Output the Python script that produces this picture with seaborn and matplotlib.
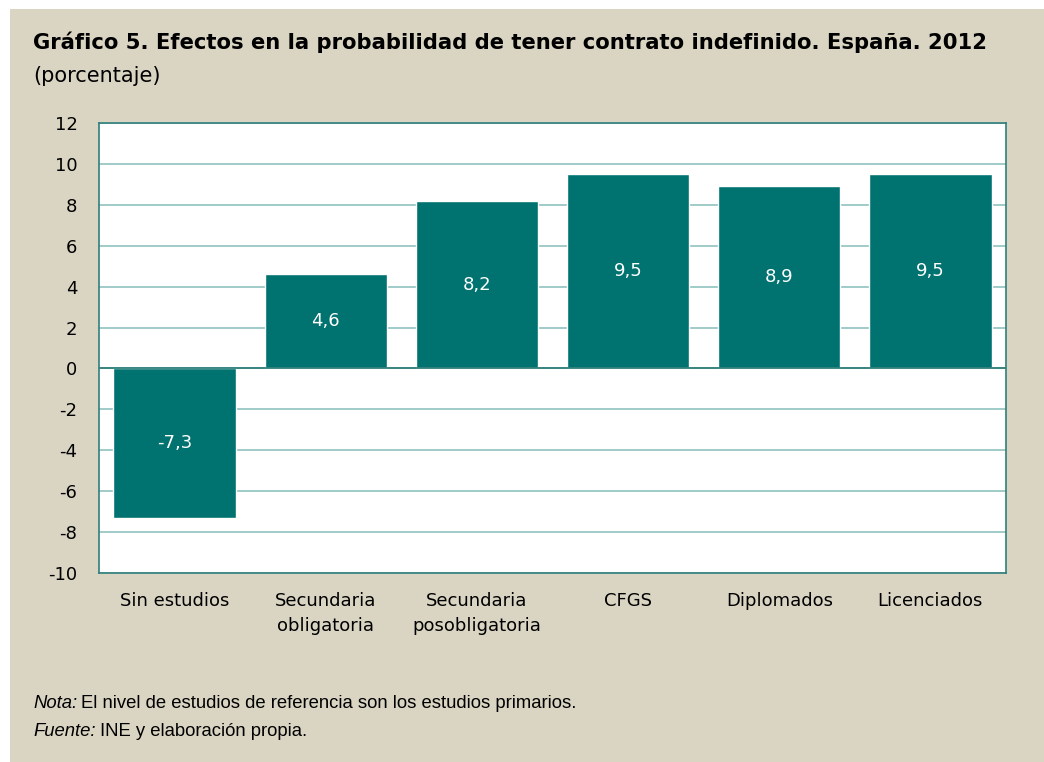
import matplotlib
matplotlib.use("Agg")
import matplotlib.pyplot as plt
import seaborn as sns
import numpy as np
import pandas as pd
from matplotlib.patches import Rectangle

# Data
categorias = ["Sin estudios", "Secundaria\nobligatoria", "Secundaria\nposobligatoria",
              "CFGS", "Diplomados", "Licenciados"]
efectos = [-7.3, 4.6, 8.2, 9.5, 8.9, 9.5]
y_ticks = np.arange(-10, 13, 2)

df = pd.DataFrame({"Nivel": categorias, "Efecto": efectos})

sns.set_theme(style="white")
plt.rcParams["font.family"] = ["DejaVu Sans"]
plt.rcParams["text.color"] = "black"

beige = "#DAD5C3"
teal = "#007370"
grid_col = "#8FC2BF"
spine_col = "#2F7F7B"

fig = plt.figure(figsize=(10.44, 7.62), dpi=100)
fig.patch.set_facecolor("white")
# beige panel (small white strip at top and left like the original)
fig.patches.append(Rectangle((10 / 1044, 0), 1 - 10 / 1044, 1 - 9 / 762,
                             transform=fig.transFigure, facecolor=beige,
                             edgecolor="none", zorder=-5))

ax = fig.add_axes([99 / 1044, 1 - 573 / 762, (1006 - 99) / 1044, (573 - 123) / 762])
ax.set_zorder(2)
ax.set_facecolor("white")

sns.barplot(data=df, x="Nivel", y="Efecto", color=teal, width=0.81,
            saturation=1, ax=ax, zorder=3)

ax.set_ylim(-10, 12)
ax.set_yticks(y_ticks)
ax.set_yticklabels([str(t) for t in y_ticks])
ax.yaxis.grid(True, color=grid_col, linewidth=1.2, zorder=0)
ax.set_axisbelow(True)
ax.axhline(0, color=spine_col, linewidth=1.3, zorder=4)
ax.set_xlim(-0.5, 5.5)

for s in ax.spines.values():
    s.set_color(spine_col)
    s.set_linewidth(1.2)

ax.set_xlabel("")
ax.set_ylabel("")
ax.tick_params(axis="both", length=0, labelsize=13, colors="black")
ax.tick_params(axis="y", pad=15.5)
ax.tick_params(axis="x", pad=14)
for lab in ax.get_xticklabels():
    lab.set_linespacing(1.45)

ax.bar_label(ax.containers[0], labels=[f"{v:.1f}".replace(".", ",") for v in efectos],
             label_type="center", color="white", fontsize=13)

fig.text(33 / 1044, 1 - 42 / 762, "Gráfico 5. Efectos en la probabilidad de tener contrato indefinido. España. 2012",
         fontsize=15.2, fontweight="bold", va="center", ha="left", color="black")
fig.text(33 / 1044, 1 - 76 / 762, "(porcentaje)", fontsize=15, va="center", ha="left", color="black")

foot_font = ["Liberation Sans Narrow", "Liberation Sans", "DejaVu Sans"]
fig.text(33 / 1044, 1 - 703 / 762, "Nota:", fontsize=13.3, style="italic",
         family=foot_font, va="center", ha="left", color="black")
fig.text(33 / 1044 + 0.046, 1 - 703 / 762, "El nivel de estudios de referencia son los estudios primarios.",
         fontsize=13.3, family=foot_font, va="center", ha="left", color="black")
fig.text(33 / 1044, 1 - 731 / 762, "Fuente:", fontsize=13.3, style="italic",
         family=foot_font, va="center", ha="left", color="black")
fig.text(33 / 1044 + 0.064, 1 - 731 / 762, "INE y elaboración propia.",
         fontsize=13.3, family=foot_font, va="center", ha="left", color="black")

fig.savefig("out.png", dpi=100, facecolor=fig.get_facecolor())
